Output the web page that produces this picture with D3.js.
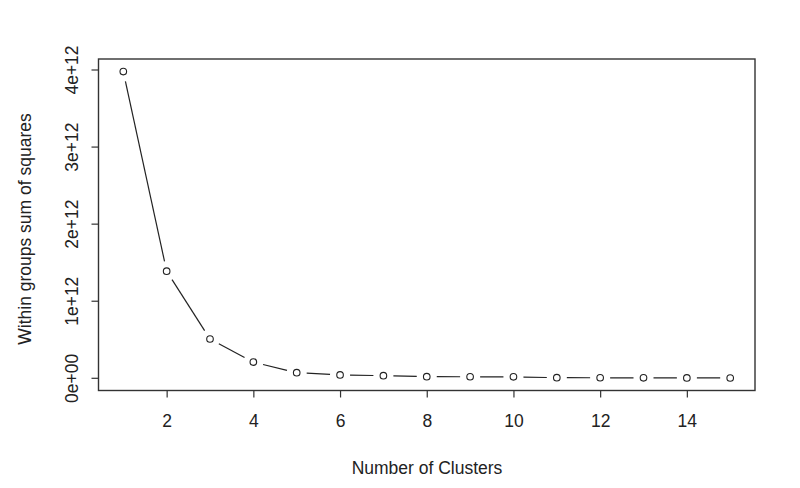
<!DOCTYPE html>
<html>
<head>
<meta charset="utf-8">
<script src="https://cdn.jsdelivr.net/npm/d3@7"></script>
<style>
  body { margin: 0; background: #fff; }
  text { font-family: "Liberation Sans", Arial, sans-serif; fill: #222; }
</style>
</head>
<body>
<svg id="chart"></svg>
<script>
const clusters = [1, 2, 3, 4, 5, 6, 7, 8, 9, 10, 11, 12, 13, 14, 15];
const wss = [3.98e12, 1.39e12, 0.51e12, 0.21e12, 0.073e12, 0.044e12, 0.034e12,
             0.021e12, 0.020e12, 0.019e12, 0.008e12, 0.007e12, 0.006e12, 0.005e12, 0.004e12];
const xTicks = [2, 4, 6, 8, 10, 12, 14];
const yTicks = [0, 1e12, 2e12, 3e12, 4e12];
const yTickLabels = ['0e+00', '1e+12', '2e+12', '3e+12', '4e+12'];

const width = 800, height = 488;
const box = { left: 98.5, top: 59, right: 755, bottom: 390.5 };
const fontSize = '17.5px';

const svg = d3.select('#chart')
    .attr('width', width)
    .attr('height', height);

const x = d3.scaleLinear()
    .domain([1, 15])
    .range([123.3, 730.2]);
const y = d3.scaleLinear()
    .domain([0, 4e12])
    .range([378.3, 70]);

// plot frame
svg.append('rect')
    .attr('x', box.left)
    .attr('y', box.top)
    .attr('width', box.right - box.left)
    .attr('height', box.bottom - box.top)
    .attr('fill', 'none')
    .attr('stroke', '#333')
    .attr('stroke-width', 1.4);

// x axis
const xAxis = d3.axisBottom(x)
    .tickValues(xTicks)
    .tickSize(7)
    .tickPadding(17)
    .tickSizeOuter(0);
const gx = svg.append('g')
    .attr('transform', `translate(0,${box.bottom})`)
    .call(xAxis);
gx.select('.domain').remove();
gx.selectAll('line').attr('stroke', '#333').attr('stroke-width', 1.2);
gx.selectAll('text')
    .style('font-size', fontSize)
    .attr('fill', '#222');

// y axis, labels rotated like R's default las=0
const yAxis = d3.axisLeft(y)
    .tickValues(yTicks)
    .tickFormat((d, i) => yTickLabels[i])
    .tickSize(7)
    .tickSizeOuter(0);
const gy = svg.append('g')
    .attr('transform', `translate(${box.left},0)`)
    .call(yAxis);
gy.select('.domain').remove();
gy.selectAll('.tick').attr('transform', null);
gy.selectAll('.tick line')
    .attr('y1', d => y(d))
    .attr('y2', d => y(d))
    .attr('stroke', '#333')
    .attr('stroke-width', 1.2);
gy.selectAll('.tick text')
    .attr('x', null)
    .attr('y', 0)
    .attr('dy', null)
    .attr('transform', d => `translate(-27,${y(d)}) rotate(-90)`)
    .attr('text-anchor', 'middle')
    .attr('dominant-baseline', 'central')
    .style('font-size', fontSize)
    .attr('fill', '#222');

// axis titles
svg.append('text')
    .attr('x', 427)
    .attr('y', 474)
    .attr('text-anchor', 'middle')
    .style('font-size', fontSize)
    .text('Number of Clusters');

svg.append('text')
    .attr('transform', 'translate(25,229) rotate(-90)')
    .attr('text-anchor', 'middle')
    .attr('dominant-baseline', 'central')
    .style('font-size', fontSize)
    .text('Within groups sum of squares');

// type="b" style: line segments with gaps around the points
const pts = clusters.map((c, i) => [x(c), y(wss[i])]);
const gap = 10;
const segs = d3.pairs(pts).map(([a, b]) => {
    const dx = b[0] - a[0], dy = b[1] - a[1];
    const len = Math.hypot(dx, dy);
    const ux = dx / len, uy = dy / len;
    return [a[0] + ux * gap, a[1] + uy * gap, b[0] - ux * gap, b[1] - uy * gap];
});

svg.append('g')
    .selectAll('line')
    .data(segs)
    .join('line')
    .attr('x1', d => d[0])
    .attr('y1', d => d[1])
    .attr('x2', d => d[2])
    .attr('y2', d => d[3])
    .attr('stroke', '#222')
    .attr('stroke-width', 1.2);

svg.append('g')
    .selectAll('circle')
    .data(pts)
    .join('circle')
    .attr('cx', d => d[0])
    .attr('cy', d => d[1])
    .attr('r', 3.3)
    .attr('fill', 'none')
    .attr('stroke', '#222')
    .attr('stroke-width', 1.1);
</script>
</body>
</html>
